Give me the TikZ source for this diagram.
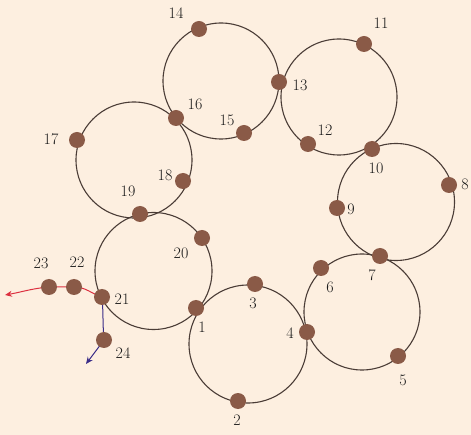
\documentclass[tikz,border=0pt]{standalone}
\usetikzlibrary{arrows.meta}
\definecolor{bg}{HTML}{FDEFE0}
\definecolor{dotc}{HTML}{8A5A47}
\definecolor{ringc}{HTML}{4A3C36}
\definecolor{redc}{HTML}{DC3040}
\definecolor{bluec}{HTML}{3A2C88}
\begin{document}
\begin{tikzpicture}[x=1pt,y=-1pt,
  ring/.style={draw=ringc,line width=1.1pt},
  dot/.style={circle,fill=dotc,inner sep=0pt,minimum size=16pt},
  lbl/.style={font=\fontsize{16}{16}\selectfont,text=black!90,inner sep=0pt},
  redpath/.style={draw=redc,line width=1pt,-{Stealth[length=7pt,width=6pt]}},
  bluepath/.style={draw=bluec,line width=1pt,-{Stealth[length=7pt,width=6pt]}}]
\fill[bg] (0,0) rectangle (471,435);
\useasboundingbox (0,0) rectangle (471,435);
% rings
\draw[ring] (153.5,271) circle (58.5);
\draw[ring] (248,344) circle (59);
\draw[ring] (362,312) circle (58);
\draw[ring] (396,202) circle (58.5);
\draw[ring] (339,97) circle (58);
\draw[ring] (221,81) circle (58);
\draw[ring] (134,160) circle (58);
% connectors
\coordinate (redend) at (5,295);
\coordinate (blueend) at (86,364);
\node[dot] (n1) at (196,308) {};
\node[dot] (n2) at (238,401) {};
\node[dot] (n3) at (255,284) {};
\node[dot] (n4) at (307,332) {};
\node[dot] (n5) at (398,356) {};
\node[dot] (n6) at (321,268) {};
\node[dot] (n7) at (380,256) {};
\node[dot] (n8) at (449,185) {};
\node[dot] (n9) at (337,208) {};
\node[dot] (n10) at (372,149) {};
\node[dot] (n11) at (364,44) {};
\node[dot] (n12) at (308,144) {};
\node[dot] (n13) at (279,82) {};
\node[dot] (n14) at (199,29) {};
\node[dot] (n15) at (244,133) {};
\node[dot] (n16) at (176,118) {};
\node[dot] (n17) at (77,140) {};
\node[dot] (n18) at (183,181) {};
\node[dot] (n19) at (140,214) {};
\node[dot] (n20) at (202,238) {};
\draw[redpath] (102,297) to[out=162,in=0] (74,287) -- (49,287) to[out=185,in=10] (redend);
\draw[bluepath] (102,297) to[out=-85,in=95] (104,340) -- (blueend);
\node[dot] (n21) at (102,297) {};
\node[dot] (n22) at (74,287) {};
\node[dot] (n23) at (49,287) {};
\node[dot] (n24) at (104,340) {};
% labels
\node[lbl] (l1) at (202,327) {1};
\node[lbl] (l2) at (237,420) {2};
\node[lbl] (l3) at (253,303) {3};
\node[lbl] (l4) at (290,333) {4};
\node[lbl] (l5) at (403,380) {5};
\node[lbl] (l6) at (330,287) {6};
\node[lbl] (l7) at (372,275) {7};
\node[lbl] (l8) at (465,184) {8};
\node[lbl] (l9) at (351,209) {9};
\node[lbl] (l10) at (376,168) {10};
\node[lbl] (l11) at (381,23) {11};
\node[lbl] (l12) at (325,130) {12};
\node[lbl] (l13) at (300,85) {13};
\node[lbl] (l14) at (176,13) {14};
\node[lbl] (l15) at (227,120) {15};
\node[lbl] (l16) at (195,104) {16};
\node[lbl] (l17) at (51,139) {17};
\node[lbl] (l18) at (165,175) {18};
\node[lbl] (l19) at (128,191) {19};
\node[lbl] (l20) at (181,253) {20};
\node[lbl] (l21) at (122,299) {21};
\node[lbl] (l22) at (77,262) {22};
\node[lbl] (l23) at (41,263) {23};
\node[lbl] (l24) at (123,353) {24};
\end{tikzpicture}
\end{document}
